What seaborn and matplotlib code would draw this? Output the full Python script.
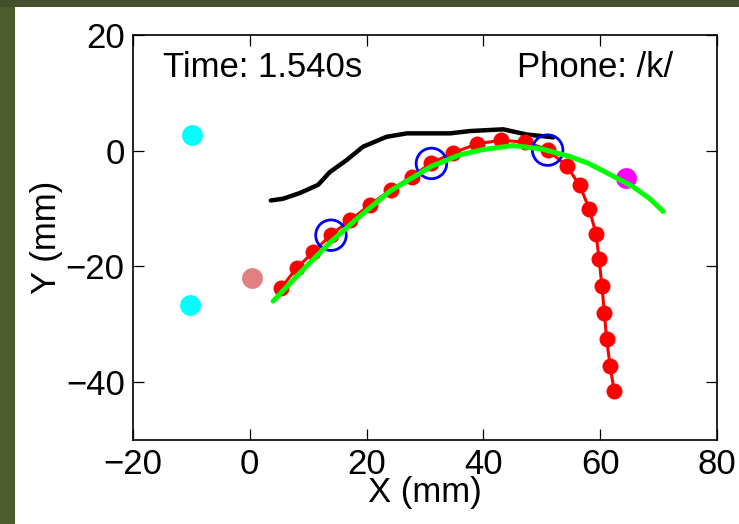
import matplotlib
matplotlib.use("Agg")
import matplotlib.pyplot as plt
import seaborn as sns
import pandas as pd
from matplotlib.patches import Rectangle

# ---- data ----
black_x = [3.6, 5.7, 8.6, 11.7, 13.7, 16.6, 19.4, 23.4, 26.9, 34.3, 37.7, 43.4, 47.4, 50.3, 52.0]
black_y = [-8.6, -8.3, -7.3, -5.9, -3.7, -1.6, 0.7, 2.4, 3.0, 3.0, 3.4, 3.7, 2.8, 2.5, 2.3]

red_x = [5.3, 8.0, 10.9, 13.9, 17.2, 20.5, 24.1, 27.7, 31.1, 34.8, 38.9, 43.0, 47.2, 51.0,
         54.3, 56.5, 58.1, 59.3, 59.8, 60.3, 60.7, 61.1, 61.7, 62.4]
red_y = [-23.8, -20.3, -17.5, -14.5, -12.0, -9.4, -6.8, -4.5, -2.1, -0.4, 1.2, 1.8, 1.5, 0.2,
         -2.7, -6.0, -10.0, -14.4, -18.7, -23.4, -28.0, -32.6, -37.2, -41.6]

circle_x = [13.9, 31.1, 51.0]
circle_y = [-14.6, -2.2, 0.1]

green_x = [4.0, 8.6, 13.7, 19.0, 24.0, 31.1, 36.0, 40.0, 45.1, 50.0, 54.8, 58.0, 61.1, 65.6, 68.5, 70.8]
green_y = [-26.0, -21.1, -15.9, -11.2, -7.0, -2.7, -0.7, 0.2, 0.9, 0.3, -1.0, -2.2, -3.8, -6.2, -8.3, -10.5]

cyan_x = [-9.85, -10.2]
cyan_y = [2.8, -26.7]
salmon_x = [0.3]
salmon_y = [-21.95]
magenta_x = [64.4]
magenta_y = [-4.7]

x_ticks = [-20, 0, 20, 40, 60, 80]
y_ticks = [-40, -20, 0, 20]
time_label = "Time: 1.540s"
phone_label = "Phone: /k/"

# ---- style ----
sns.set_style("ticks")
plt.rcParams["font.family"] = ["Liberation Sans", "DejaVu Sans"]
plt.rcParams["xtick.direction"] = "in"
plt.rcParams["ytick.direction"] = "in"
plt.rcParams["text.color"] = "black"
plt.rcParams["axes.labelcolor"] = "black"
plt.rcParams["xtick.color"] = "black"
plt.rcParams["ytick.color"] = "black"

fig = plt.figure(figsize=(7.39, 5.24), dpi=100)
fig.patch.set_facecolor("white")
fig.patches.append(Rectangle((0, 0), 15 / 739, 1, transform=fig.transFigure,
                             facecolor="#4d5c2e", edgecolor="none", zorder=0))
fig.patches.append(Rectangle((0, 1 - 7 / 524), 1, 7 / 524, transform=fig.transFigure,
                             facecolor="#424f2a", edgecolor="none", zorder=0))

ax = fig.add_axes([133 / 739, 1 - 440 / 524, (717 - 133) / 739, (440 - 35) / 524])

df_black = pd.DataFrame({"x": black_x, "y": black_y})
df_red = pd.DataFrame({"x": red_x, "y": red_y})
df_green = pd.DataFrame({"x": green_x, "y": green_y})

sns.lineplot(data=df_black, x="x", y="y", sort=False, estimator=None, color="black",
             linewidth=3.2, ax=ax, zorder=2)
sns.lineplot(data=df_red, x="x", y="y", sort=False, estimator=None, color="#ff0000",
             linewidth=2.2, marker="o", markersize=11.5, markeredgewidth=0,
             ax=ax, zorder=3)
sns.scatterplot(x=circle_x, y=circle_y, s=22 ** 2, facecolors="none", edgecolor="#0000ff",
                linewidth=2.0, ax=ax, zorder=4)
sns.scatterplot(x=magenta_x, y=magenta_y, s=15 ** 2, color="#ff00ff", linewidth=0,
                ax=ax, zorder=4)
sns.lineplot(data=df_green, x="x", y="y", sort=False, estimator=None, color="#00ff00",
             linewidth=3.6, ax=ax, zorder=5)
sns.scatterplot(x=cyan_x, y=cyan_y, s=15 ** 2, color="#00ffff", linewidth=0, ax=ax, zorder=6)
sns.scatterplot(x=salmon_x, y=salmon_y, s=15 ** 2, color="#e08080", linewidth=0, ax=ax, zorder=6)

ax.set_xlim(-20, 80)
ax.set_ylim(-50, 20)
ax.set_xticks(x_ticks)
ax.set_yticks(y_ticks)
ax.tick_params(axis="both", which="major", labelsize=25, length=8, width=0.9,
               top=True, right=True, pad=6, colors="black")
for sp in ax.spines.values():
    sp.set_visible(True)
    sp.set_linewidth(1.2)
    sp.set_color("black")

ax.set_xlabel("X (mm)", fontsize=25, labelpad=-4, color="black")
ax.set_ylabel("Y (mm)", fontsize=25, labelpad=2, color="black")

ax.text(-14.9, 12.8, time_label, fontsize=25, ha="left", va="baseline", color="black")
ax.text(72.5, 12.8, phone_label, fontsize=25, ha="right", va="baseline", color="black")

fig.savefig("out.png", dpi=100)
